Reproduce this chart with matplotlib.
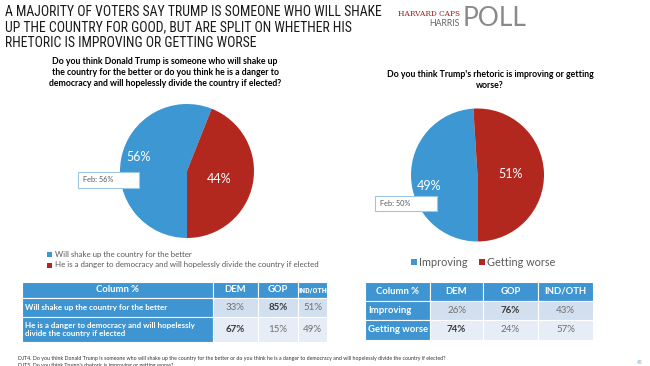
import matplotlib.pyplot as plt
from matplotlib import font_manager
from matplotlib.patches import Rectangle

# --- data ---
title = ("A MAJORITY OF VOTERS SAY TRUMP IS SOMEONE WHO WILL SHAKE\n"
         "UP THE COUNTRY FOR GOOD, BUT ARE SPLIT ON WHETHER HIS\n"
         "RHETORIC IS IMPROVING OR GETTING WORSE")
q1 = ("Do you think Donald Trump is someone who will shake up\n"
      "the country for the better or do you think he is a danger to\n"
      "democracy and will hopelessly divide the country if elected?")
q2 = "Do you think Trump's rhetoric is improving or getting\nworse?"

pie1_labels = ["Will shake up the country for the better",
               "He is a danger to democracy and will hopelessly divide the country if elected"]
pie1_values = [56, 44]
pie1_feb = "Feb: 56%"

pie2_labels = ["Improving", "Getting worse"]
pie2_values = [49, 51]
pie2_feb = "Feb: 50%"

table_cols = ["DEM", "GOP", "IND/OTH"]
t1_rows = ["Will shake up the country for the better",
           "He is a danger to democracy and will hopelessly\ndivide the country if elected"]
t1_vals = [[33, 85, 51], [67, 15, 49]]
t2_rows = ["Improving", "Getting worse"]
t2_vals = [[26, 76, 43], [74, 24, 57]]

foot1 = ("DJT4. Do you think Donald Trump is someone who will shake up the country for the better "
         "or do you think he is a danger to democracy and will hopelessly divide the country if elected?")
foot2 = "DJT5. Do you think Trump's rhetoric is improving or getting worse?"

BLUE = "#3C97D3"
RED = "#B3281E"
HEAD = "#3E95D1"
CELL1 = "#D2DFEE"
CELL2 = "#E6EDF6"
GRAY = "#595959"

installed = {f.name for f in font_manager.fontManager.ttflist}
NARROW = next((n for n in ['Roboto Condensed', 'Liberation Sans Narrow', 'Open Sans Condensed',
                           'Lato'] if n in installed), 'DejaVu Sans')

plt.rcParams['font.family'] = ['Lato', 'DejaVu Sans']

W, H = 650, 366
fig = plt.figure(figsize=(6.5, 3.66), dpi=100)
bg = fig.add_axes([0, 0, 1, 1])
bg.set_xlim(0, W)
bg.set_ylim(H, 0)
bg.axis('off')
bg.set_zorder(3)


def fit_width(t, width_px):
    # shrink/grow a text so that its widest line spans width_px
    r = fig.canvas.get_renderer()
    w = t.get_window_extent(renderer=r).width
    t.set_fontsize(t.get_fontsize() * width_px / w)


# title + logo
tt = bg.text(5, 5, title, fontsize=10.5, family=NARROW, va='top', ha='left', color='#1a1a1a',
             linespacing=1.12)
fit_width(tt, 378)
bg.text(460, 14, "HARVARD CAPS", fontsize=5.3, family='DejaVu Serif', color='#9b1b1b',
        ha='right', va='center')
bg.text(460, 23, "HARRIS", fontsize=6.3, color='#666666', ha='right', va='center')
bg.text(463, 19, "POLL", fontsize=19, color='#8a8a8a', ha='left', va='center')

# questions
bg.text(165, 57, q1, fontsize=6.3, fontweight='bold', ha='center', va='top', linespacing=1.25)
bg.text(490, 70, q2, fontsize=6.3, fontweight='bold', ha='center', va='top', linespacing=1.25)


def draw_pie(cx, cy, r, values, pct_pos, feb_box, feb_text):
    ax = fig.add_axes([(cx - r) / W, (H - cy - r) / H, 2 * r / W, 2 * r / H])
    ax.pie(values, colors=[BLUE, RED], startangle=-90, counterclock=False,
           wedgeprops=dict(linewidth=0))
    ax.set_xlim(-1, 1)
    ax.set_ylim(-1, 1)
    for v, (px, py) in zip(values, pct_pos):
        bg.text(px, py, f"{v}%", fontsize=9, color='white', ha='center', va='center')
    x0, y0, bw, bh = feb_box
    bg.add_patch(Rectangle((x0, y0), bw, bh, facecolor='white', edgecolor='#9CC6E4',
                           linewidth=0.8, zorder=5))
    bg.text(x0 + 5, y0 + bh / 2, feb_text, fontsize=5.3, color=GRAY, va='center', zorder=6)


draw_pie(187, 171, 67, pie1_values, [(139, 157), (219, 179)], (78, 172, 61, 16), pie1_feb)
draw_pie(477.5, 175, 66.5, pie2_values, [(429, 186), (511, 174)], (375, 196, 62, 15), pie2_feb)

# legends
for i, lab in enumerate(pie1_labels):
    y = 254 + i * 11
    bg.add_patch(Rectangle((47, y - 2.5), 5, 5, facecolor=[BLUE, RED][i], edgecolor='none'))
    bg.text(55, y, lab, fontsize=5.65, color=GRAY, va='center')
bg.add_patch(Rectangle((411, 259), 6, 6, facecolor=BLUE, edgecolor='none'))
bg.text(419, 262, pie2_labels[0], fontsize=7.8, color=GRAY, va='center')
bg.add_patch(Rectangle((479, 259), 6, 6, facecolor=RED, edgecolor='none'))
bg.text(487, 262, pie2_labels[1], fontsize=7.8, color=GRAY, va='center')


def draw_table(xs, ys, rows, vals, head_fs, label_fs):
    heads = ["Column %"] + table_cols
    r = fig.canvas.get_renderer()
    for j in range(4):
        bg.add_patch(Rectangle((xs[j], ys[0]), xs[j + 1] - xs[j], ys[1] - ys[0],
                               facecolor=HEAD, edgecolor='white', linewidth=0.8))
        ht = bg.text((xs[j] + xs[j + 1]) / 2, (ys[0] + ys[1]) / 2, heads[j], fontsize=head_fs,
                     fontweight='bold', color='white', ha='center', va='center')
        cw = xs[j + 1] - xs[j] - 0.5
        if ht.get_window_extent(renderer=r).width > cw:
            ht.set_family(NARROW)
            if ht.get_window_extent(renderer=r).width > cw:
                fit_width(ht, cw)
    for i, lab in enumerate(rows):
        y0, y1 = ys[i + 1], ys[i + 2]
        bg.add_patch(Rectangle((xs[0], y0), xs[1] - xs[0], y1 - y0,
                               facecolor=HEAD, edgecolor='white', linewidth=0.8))
        bg.text(xs[0] + 3, (y0 + y1) / 2, lab, fontsize=label_fs, fontweight='bold',
                color='white', ha='left', va='center', linespacing=1.2)
        mx = max(vals[i])
        for j, v in enumerate(vals[i]):
            bg.add_patch(Rectangle((xs[j + 1], y0), xs[j + 2] - xs[j + 1], y1 - y0,
                                   facecolor=[CELL1, CELL2][i], edgecolor='white', linewidth=0.8))
            strong = v == mx
            bg.text((xs[j + 1] + xs[j + 2]) / 2, (y0 + y1) / 2, f"{v}%", fontsize=7,
                    fontweight='bold' if strong else 'normal',
                    color='#3a3a3a' if strong else '#707070', ha='center', va='center')


draw_table([22, 213, 258, 298, 327], [282, 298, 317, 342], t1_rows, t1_vals, 6.8, 5.8)
draw_table([365, 430, 483, 538, 593], [282, 301, 320, 340], t2_rows, t2_vals, 6.8, 6.8)

# footnotes
bg.text(18, 358.5, foot1, fontsize=3.75, color='#333333', va='center')
bg.text(18, 365.5, foot2, fontsize=3.75, color='#333333', va='center')
bg.text(637, 362, "45", fontsize=3.5, color='#6FA8D6', va='center')

fig.savefig("out.png", dpi=100)
